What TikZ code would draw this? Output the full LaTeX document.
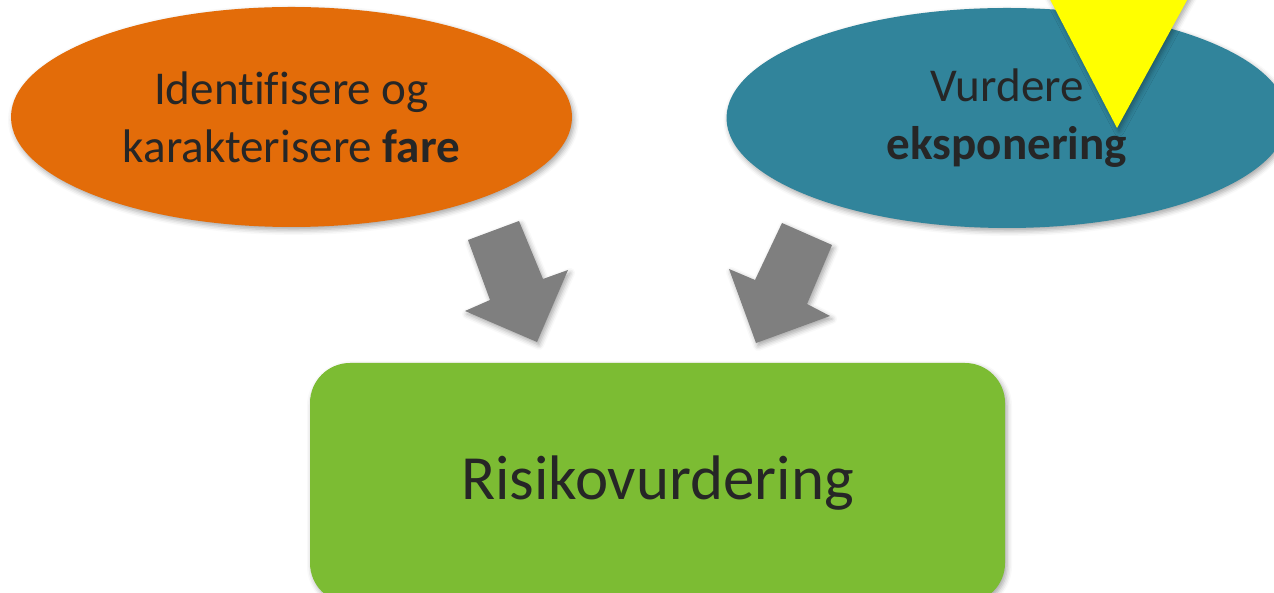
\documentclass[tikz,border=0pt]{standalone}
\usepackage{fontspec}
\setmainfont{Carlito}[Ligatures=NoCommon]
\usepackage{tikz}
\usetikzlibrary{shapes.geometric,shadows.blur}

\definecolor{fareorange}{HTML}{E36C09}
\definecolor{ekspteal}{HTML}{31849B}
\definecolor{risikogreen}{HTML}{7CBC33}
\definecolor{pilgray}{HTML}{7F7F7F}
\definecolor{varselgul}{HTML}{FFFF00}
\definecolor{tekst}{HTML}{262626}

\tikzset{
    skygge/.style={blur shadow={shadow xshift=0.02cm, shadow yshift=-0.03cm, shadow blur radius=0.05cm, shadow opacity=35}},
    boble/.style={ellipse, skygge, inner sep=0, minimum width=5.61cm, minimum height=2.2cm, align=center, text=tekst, font=\fontsize{13.4}{16.5}\selectfont}
}

\begin{document}
\begin{tikzpicture}
            \useasboundingbox (0,0) rectangle (12.74,5.92);
            \clip (0,0) rectangle (12.74,5.92);

            \node[boble, fill=fareorange] (fare) at (2.915,4.75) {Identifisere og\\karakterisere \textbf{fare}};
            \node[boble, fill=ekspteal] (eksp) at (10.07,4.74) {Vurdere\\\textbf{eksponering}};

            \fill[varselgul, skygge] (10.41,6.1) -- (11.97,6.1) -- (11.17,4.64) -- cycle;

            \fill[pilgray, skygge] (4.68,3.52) -- (5.19,3.71) -- (5.43,3.13) -- (5.68,3.22) -- (5.37,2.50) -- (4.65,2.81) -- (4.90,2.92) -- cycle;
            \fill[pilgray, skygge] (7.82,3.69) -- (8.32,3.47) -- (8.07,2.88) -- (8.30,2.76) -- (7.56,2.49) -- (7.29,3.23) -- (7.55,3.12) -- cycle;

            \node[skygge, fill=risikogreen, rounded corners=0.4cm, minimum width=6.95cm, minimum height=2.4cm, inner sep=0, text=tekst, font=\fontsize{17.9}{21}\selectfont] (risiko) at (6.575,1.09) {Risikovurdering};
        \end{tikzpicture}
\end{document}
